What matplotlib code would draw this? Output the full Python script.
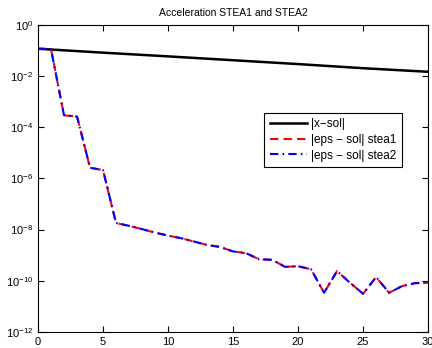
import numpy as np
import matplotlib
matplotlib.use('Agg')
import matplotlib.pyplot as plt
from matplotlib.ticker import FixedLocator, NullLocator

plt.rcParams['font.family'] = ['Liberation Sans', 'DejaVu Sans']
plt.rcParams['mathtext.fontset'] = 'custom'
plt.rcParams['mathtext.rm'] = 'Liberation Sans'
plt.rcParams['mathtext.it'] = 'Liberation Sans'

# ===== data =====
x_sol = [0, 5, 10, 15, 20, 25, 30]
err_x = [0.115, 0.081, 0.058, 0.041, 0.029, 0.020, 0.0145]

n = list(range(31))
err_stea1 = [0.115, 0.112, 2.9e-4, 2.6e-4, 2.6e-6, 2.1e-6, 1.8e-8, 1.4e-8,
             1.04e-8, 7.6e-9, 5.8e-9, 4.6e-9, 3.4e-9, 2.5e-9, 2.1e-9, 1.4e-9,
             1.2e-9, 6.9e-10, 6.6e-10, 3.5e-10, 3.7e-10, 2.8e-10, 3.4e-11,
             2.4e-10, 8.3e-11, 3.1e-11, 1.4e-10, 3.4e-11, 6.2e-11, 8.1e-11, 8.3e-11]
err_stea2 = list(err_stea1)

# ===== plot =====
fig = plt.figure(figsize=(4.32, 3.48), dpi=100)
ax = fig.add_axes([0.088, 0.046, 0.903, 0.883])

ax.semilogy(x_sol, err_x, color='black', linewidth=1.8, label='|x\u2212sol|')
ax.semilogy(n, err_stea1, color='red', linestyle=(0, (4, 2.5)), linewidth=1.5,
            label='|eps \u2212 sol| stea1')
ax.semilogy(n, err_stea2, color='blue', linestyle=(0, (4, 2, 0.8, 2)), linewidth=1.5,
            label='|eps \u2212 sol| stea2')

ax.set_xlim(0, 30)
ax.set_ylim(1e-12, 1e0)
ax.xaxis.set_major_locator(FixedLocator([0, 5, 10, 15, 20, 25, 30]))
ax.yaxis.set_major_locator(FixedLocator([1e-12, 1e-10, 1e-8, 1e-6, 1e-4, 1e-2, 1e0]))
ax.yaxis.set_minor_locator(NullLocator())
ax.tick_params(direction='in', top=True, right=True, labelsize=8, length=4, width=0.8)
for s in ax.spines.values():
    s.set_linewidth(0.8)

ax.set_title('Acceleration STEA1 and STEA2', fontsize=7.5, pad=6)

leg = ax.legend(loc='upper right', bbox_to_anchor=(0.933, 0.714), borderaxespad=0,
                fontsize=8.5, fancybox=False, framealpha=1, edgecolor='black',
                handlelength=3.1, labelspacing=0.3, borderpad=0.5, handletextpad=0.35)
leg.get_frame().set_linewidth(0.8)

plt.savefig('out.png', dpi=100)
